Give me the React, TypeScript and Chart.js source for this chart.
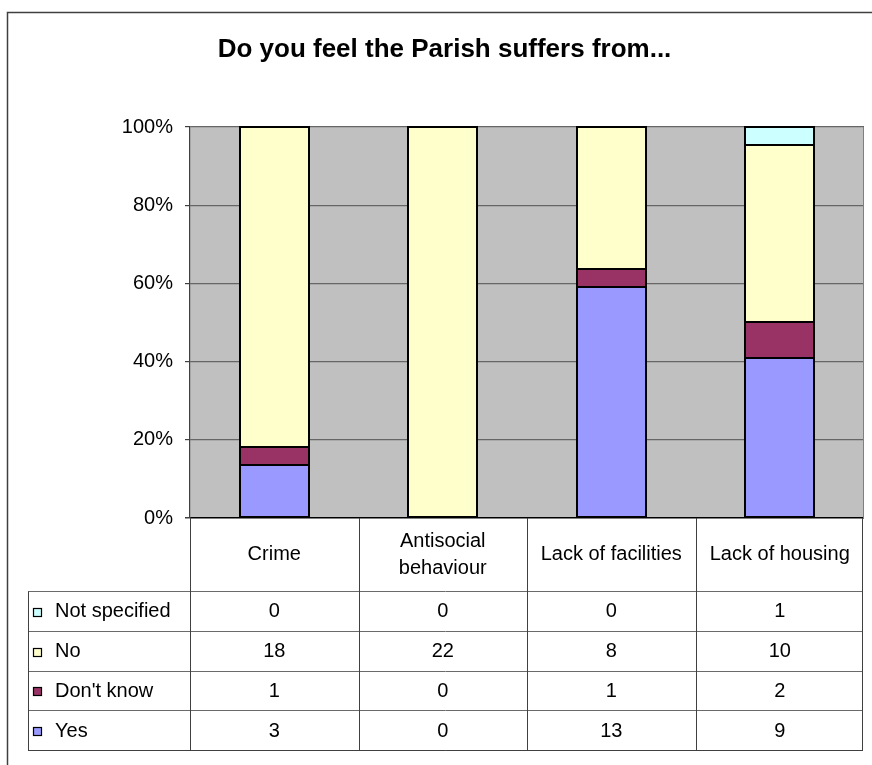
import React, { useEffect, useRef } from "react";
import { Chart, registerables } from "chart.js";

Chart.register(...registerables);

// Survey answers per issue (counts of respondents)
const categories = ["Crime", "Antisocial behaviour", "Lack of facilities", "Lack of housing"];
const headerLines = [["Crime"], ["Antisocial", "behaviour"], ["Lack of facilities"], ["Lack of housing"]];
const seriesNames = ["Yes", "Don't know", "No", "Not specified"];
const yesValues = [3, 0, 13, 9];
const dontKnowValues = [1, 0, 1, 2];
const noValues = [18, 22, 8, 10];
const notSpecifiedValues = [0, 0, 0, 1];
const seriesColors = ["#9999FF", "#993366", "#FFFFCC", "#CCFFFF"];
const yTickStep = 20;
const titleText = "Do you feel the Parish suffers from...";

const FONT = '"Liberation Sans", Arial, Helvetica, sans-serif';

const seriesValues = [yesValues, dontKnowValues, noValues, notSpecifiedValues];
const totals = categories.map((_, i) => seriesValues.reduce((s, arr) => s + arr[i], 0));
const toPercent = (arr: number[]) => arr.map((v, i) => (totals[i] ? (v / totals[i]) * 100 : 0));

const crisp = (v: number) => Math.round(v) + 0.5;

const sheetPlugin = {
  id: "sheetDecor",
  beforeDraw(chart: any) {
    const { ctx, chartArea: a } = chart;
    ctx.save();
    ctx.fillStyle = "#ffffff";
    ctx.fillRect(0, 0, chart.width, chart.height);
    ctx.fillStyle = "#C0C0C0";
    ctx.fillRect(a.left, a.top, a.right - a.left, a.bottom - a.top);
    ctx.restore();
  },
  afterDatasetsDraw(chart: any) {
    // black outline around every non-empty stacked segment
    const { ctx } = chart;
    ctx.save();
    ctx.strokeStyle = "#000";
    ctx.lineWidth = 2;
    chart.data.datasets.forEach((_: any, di: number) => {
      const meta = chart.getDatasetMeta(di);
      meta.data.forEach((el: any) => {
        const { x, y, base, width } = el.getProps(["x", "y", "base", "width"], true);
        const top = Math.min(y, base);
        const h = Math.abs(base - y);
        if (h < 0.5) return;
        const left = Math.round(x - width / 2);
        const w = Math.round(width);
        ctx.strokeRect(left, Math.round(top), w, Math.round(top + h) - Math.round(top));
      });
    });
    ctx.restore();
  },
  afterDraw(chart: any) {
    const { ctx, chartArea: a } = chart;
    const xScale = chart.scales.x;
    ctx.save();

    // outer chart frame (left and top edges fall inside the page)
    ctx.strokeStyle = "#404040";
    ctx.lineWidth = 1.5;
    ctx.beginPath();
    ctx.moveTo(7.5, chart.height + 10);
    ctx.lineTo(7.5, 12.5);
    ctx.lineTo(chart.width + 10, 12.5);
    ctx.stroke();

    // plot area right edge
    ctx.strokeStyle = "#808080";
    ctx.lineWidth = 1;
    ctx.beginPath();
    ctx.moveTo(crisp(a.right) - 1, a.top);
    ctx.lineTo(crisp(a.right) - 1, a.bottom);
    ctx.stroke();

    // title
    ctx.fillStyle = "#000";
    ctx.font = `bold 26px ${FONT}`;
    ctx.textAlign = "center";
    ctx.textBaseline = "middle";
    ctx.fillText(titleText, 444.5, 50);

    // data table
    const colW = (a.right - a.left) / categories.length;
    const headerBottom = a.bottom + 73;
    const rowH = 39.75;
    const rows = seriesNames.length;
    const tableBottom = headerBottom + rowH * rows;
    const legendLeft = 28;
    const right = a.right - 1;

    ctx.lineWidth = 1;
    ctx.strokeStyle = "#6a6a6a";
    ctx.beginPath();
    for (let r = 0; r <= rows; r++) {
      const y = crisp(headerBottom + r * rowH);
      ctx.moveTo(legendLeft, y);
      ctx.lineTo(right, y);
    }
    ctx.stroke();

    ctx.strokeStyle = "#404040";
    ctx.beginPath();
    ctx.moveTo(crisp(legendLeft), crisp(headerBottom));
    ctx.lineTo(crisp(legendLeft), crisp(tableBottom));
    for (let c = 0; c <= categories.length; c++) {
      const x = c === categories.length ? crisp(right) - 1 : crisp(a.left + c * colW);
      ctx.moveTo(x, a.bottom);
      ctx.lineTo(x, crisp(tableBottom));
    }
    ctx.moveTo(legendLeft, crisp(tableBottom));
    ctx.lineTo(right, crisp(tableBottom));
    ctx.stroke();

    ctx.font = `20px ${FONT}`;
    ctx.fillStyle = "#000";
    ctx.textAlign = "center";
    ctx.textBaseline = "middle";
    const headerMid = (a.bottom + headerBottom) / 2;
    headerLines.forEach((lines, i) => {
      const cx = xScale.getPixelForValue(i);
      const lh = 27;
      lines.forEach((ln, k) => {
        ctx.fillText(ln, cx, headerMid + (k - (lines.length - 1) / 2) * lh);
      });
    });

    // rows listed from the top of the stack down
    for (let r = 0; r < rows; r++) {
      const s = rows - 1 - r;
      const cy = headerBottom + r * rowH + rowH / 2 + 1;
      // legend key
      const ky = Math.round(cy - 4);
      ctx.fillStyle = seriesColors[s];
      ctx.fillRect(33, ky, 9, 9);
      ctx.strokeStyle = "#000";
      ctx.lineWidth = 1.2;
      ctx.strokeRect(33.5, ky + 0.5, 8, 8);
      ctx.fillStyle = "#000";
      ctx.textAlign = "left";
      ctx.fillText(seriesNames[s], 55, cy);
      ctx.textAlign = "center";
      seriesValues[s].forEach((v, i) => {
        ctx.fillText(String(v), xScale.getPixelForValue(i), cy);
      });
    }

    ctx.restore();
  },
};

export default function App() {
  const canvasRef = useRef<HTMLCanvasElement | null>(null);

  useEffect(() => {
    const canvas = canvasRef.current;
    if (!canvas) return;
    const chart = new Chart(canvas, {
      type: "bar",
      data: {
        labels: categories,
        datasets: seriesValues.map((vals, s) => ({
          label: seriesNames[s],
          data: toPercent(vals),
          backgroundColor: seriesColors[s],
          borderWidth: 0,
          barPercentage: 0.41,
          categoryPercentage: 1,
          stack: "all",
        })),
      },
      options: {
        responsive: false,
        animation: false,
        devicePixelRatio: 1,
        layout: { padding: { top: 127, right: 8, bottom: 247, left: 0 } },
        plugins: {
          legend: { display: false },
          tooltip: { enabled: false },
          title: { display: false },
        },
        scales: {
          x: { stacked: true, display: false },
          y: {
            stacked: true,
            min: 0,
            max: 100,
            afterFit: (scale: any) => {
              scale.width = 190;
            },
            ticks: {
              stepSize: yTickStep,
              callback: (v: any) => `${v}%`,
              color: "#000",
              font: { family: FONT, size: 20 },
              padding: 12,
            },
            grid: {
              color: (c: any) => (c.tick && c.tick.value === 0 ? "#000000" : "#666666"),
              lineWidth: (c: any) => (c.tick && c.tick.value === 0 ? 1.5 : 1.2),
              tickLength: 5,
              tickColor: "#404040",
            },
            border: { color: "#404040", width: 1.2 },
          },
        },
      },
      plugins: [sheetPlugin],
    });
    return () => chart.destroy();
  }, []);

  return (
    <div style={{ position: "fixed", left: 0, top: 0, width: 872, height: 765, background: "#fff" }}>
      <canvas ref={canvasRef} width={872} height={765} style={{ display: "block", width: 872, height: 765 }} />
    </div>
  );
}
